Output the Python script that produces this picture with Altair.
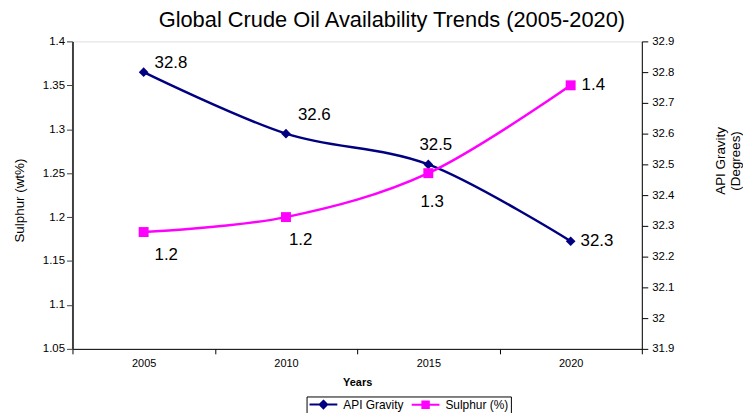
import altair as alt
import pandas as pd

# ---- data ----
years = [2005, 2010, 2015, 2020]
api_gravity = [32.80, 32.60, 32.50, 32.25]
sulphur = [1.183, 1.200, 1.250, 1.350]
api_labels = ["32.8", "32.6", "32.5", "32.3"]
sulphur_labels = ["1.2", "1.2", "1.3", "1.4"]
series_names = ["API Gravity", "Sulphur (%)"]
left_ticks = [1.05, 1.1, 1.15, 1.2, 1.25, 1.3, 1.35, 1.4]
right_ticks = [31.9, 32.0, 32.1, 32.2, 32.3, 32.4, 32.5, 32.6, 32.7, 32.8, 32.9]

NAVY = "#000080"
MAGENTA = "#FF00FF"
FONT = "Liberation Sans"

df = pd.DataFrame({
    "year": years,
    "api": api_gravity,
    "sulphur": sulphur,
    "api_label": api_labels,
    "sulphur_label": sulphur_labels,
})

x_enc = alt.X(
    "year:O",
    scale=alt.Scale(type="band", paddingInner=0, paddingOuter=0),
    axis=alt.Axis(
        title="Years", tickBand="extent", labelAngle=0, labelFontSize=11,
        titleFontSize=11, titleFontWeight="bold", tickSize=5, labelPadding=4,
        titlePadding=8, domainColor="black", tickColor="black",
        labelColor="black", titleColor="black", grid=False,
    ),
)

api_y = alt.Y(
    "api:Q",
    scale=alt.Scale(domain=[31.9, 32.9], nice=False, zero=False),
    axis=alt.Axis(
        orient="right", values=right_ticks, format="~g", grid=False,
        title=["API Gravity", "(Degrees)"], titleFontSize=13.5,
        titleFontWeight="normal", titleAngle=270, titleX=79, titleY=120,
        titleBaseline="middle", titleAlign="center", titleLineHeight=15,
        titleColor="black", domainColor="black", tickColor="black",
        tickSize=6, labelPadding=4, labelFontSize=11.5, labelColor="black",
    ),
)

sul_y = alt.Y(
    "sulphur:Q",
    scale=alt.Scale(domain=[1.05, 1.4], nice=False, zero=False),
    axis=alt.Axis(
        orient="left", values=left_ticks, format="~g", grid=False,
        title="Sulphur (wt%)", titleFontSize=13.5, titleFontWeight="normal",
        titleAngle=270, titleX=-53, titleY=160, titleBaseline="middle",
        titleAlign="center", titleColor="black", domainColor="#404040",
        domainWidth=2, tickColor="#404040", tickSize=6, labelPadding=2,
        labelFontSize=11.5, labelColor="black",
    ),
)

base = alt.Chart(df)

api_line = base.mark_line(color=NAVY, strokeWidth=2.5, interpolate="cardinal").encode(x=x_enc, y=api_y)
api_pts = base.mark_point(shape="diamond", filled=True, size=95, color=NAVY, opacity=1).encode(x=x_enc, y=api_y)

sul_line = base.mark_line(color=MAGENTA, strokeWidth=2.5, interpolate="cardinal").encode(x=x_enc, y=sul_y)
sul_pts = base.mark_point(shape="square", filled=True, size=100, color=MAGENTA, opacity=1).encode(x=x_enc, y=sul_y)

# label offsets (style) per year
api_off = {2005: (11, -9), 2010: (12, -19), 2015: (-9, -19), 2020: (10, 0)}
sul_off = {2005: (11, 23), 2010: (3, 23), 2015: (-8, 29), 2020: (11, 0)}

api_texts = [
    base.transform_filter(alt.datum.year == yr)
    .mark_text(align="left", baseline="middle", dx=o[0], dy=o[1], fontSize=17, color="black")
    .encode(x=x_enc, y=api_y, text="api_label:N")
    for yr, o in api_off.items()
]
sul_texts = [
    base.transform_filter(alt.datum.year == yr)
    .mark_text(align="left", baseline="middle", dx=o[0], dy=o[1], fontSize=17, color="black")
    .encode(x=x_enc, y=sul_y, text="sulphur_label:N")
    for yr, o in sul_off.items()
]

# legend symbols: a line segment with the series marker (size 100 -> unit = 5 px)
diamond_path = "M-2.8,0H2.8M0,-0.75L0.75,0L0,0.75L-0.75,0Z"
square_path = "M-2.8,0H2.8M-0.65,-0.65H0.65V0.65H-0.65Z"

legend_spec = dict(
    title=None, orient="none", legendX=236, legendY=358, direction="horizontal",
    strokeColor="black", padding=2, symbolSize=100, symbolStrokeWidth=2,
    symbolOffset=9, labelOffset=14, labelFontSize=12, labelColor="black",
    columnPadding=4,
)

legend_layer = (
    alt.Chart(pd.DataFrame({"series": series_names}))
    .transform_filter("false")
    .mark_point(filled=False, opacity=1)
    .encode(
        color=alt.Color("series:N", scale=alt.Scale(domain=series_names, range=[NAVY, MAGENTA]),
                        legend=alt.Legend(**legend_spec)),
        fill=alt.Fill("series:N", scale=alt.Scale(domain=series_names, range=[NAVY, MAGENTA]),
                      legend=alt.Legend(**legend_spec)),
        shape=alt.Shape("series:N", scale=alt.Scale(domain=series_names, range=[diamond_path, square_path]),
                        legend=alt.Legend(**legend_spec)),
    )
)

api_layer = alt.layer(api_line, api_pts, *api_texts)
sul_layer = alt.layer(sul_line, sul_pts, *sul_texts)

chart = (
    alt.layer(api_layer, sul_layer, legend_layer)
    .resolve_scale(y="independent")
    .properties(
        width=574, height=310,
        autosize=alt.AutoSizeParams(type="none"),
        padding={"left": 65, "top": 32, "right": 102, "bottom": 63},
        title=alt.TitleParams(
            "Global Crude Oil Availability Trends (2005-2020)", fontSize=22,
            fontWeight="normal", color="black", font=FONT, frame="group",
            anchor="middle", dx=35, offset=3,
        ),
    )
    .configure_view(stroke="#c0c0c0", strokeWidth=1)
    .configure_axis(labelFont=FONT, titleFont=FONT)
    .configure_text(font=FONT)
    .configure_legend(labelFont=FONT, titleFont=FONT)
    .configure(background="white")
)

chart.save("out.html", embed_options={"renderer": "svg", "actions": False})
